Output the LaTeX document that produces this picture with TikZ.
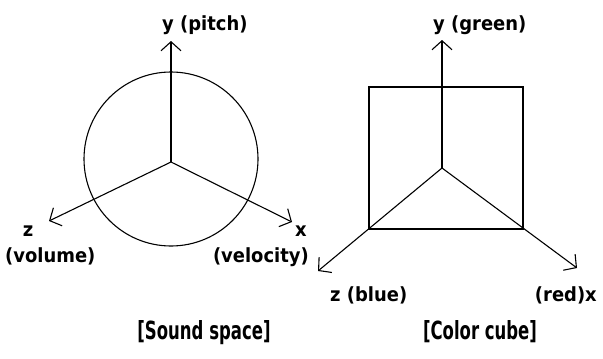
\documentclass[tikz,border=0pt]{standalone}
\usepackage{fontspec}
\usetikzlibrary{arrows.meta}
\newfontfamily\lblfont[FakeStretch=0.92]{DejaVu Sans Bold}
\newfontfamily\ttlfont[FakeStretch=0.66]{DejaVu Sans Bold}
\begin{document}
\begin{tikzpicture}[x=1pt,y=-1pt,
  axis/.style={line width=1.1pt,-{Straight Barb[length=9pt,width=20pt,line width=1.1pt]}},
  shapeline/.style={line width=1.1pt},
  lbl/.style={inner sep=0pt,font=\lblfont\fontsize{19.5}{22}\selectfont},
  ttl/.style={inner sep=0pt,font=\ttlfont\fontsize{25}{28}\selectfont}]
\useasboundingbox (0,0) rectangle (603,359);
% Sound space
\coordinate (o1) at (171,162);
\coordinate (y1) at (171,41);
\coordinate (z1) at (49,221);
\coordinate (x1) at (292,222);
\coordinate (c1) at (171,159);
\draw[shapeline] (c1) circle[radius=87];
\draw[axis] (o1) -- (y1);
\draw[axis] (o1) -- (z1);
\draw[axis] (o1) -- (x1);
\node[lbl,anchor=base west] (ly1) at (162,30) {y (pitch)};
\node[lbl,anchor=base] (lz1) at (28,236) {z};
\node[lbl,anchor=base west] (lz1b) at (5,262) {(volume)};
\node[lbl,anchor=base] (lx1) at (301,236) {x};
\node[lbl,anchor=base east] (lx1b) at (309,262) {(velocity)};
\node[ttl,anchor=base] (t1) at (204,339) {[Sound space]};
% Color cube
\coordinate (o2) at (442,168);
\coordinate (y2) at (442,40);
\coordinate (z2) at (318,271);
\coordinate (x2) at (577,268);
\coordinate (bl) at (369,229);
\coordinate (tr) at (523,87);
\draw[shapeline] (bl) rectangle (tr);
\draw[axis] (o2) -- (y2);
\draw[axis] (o2) -- (z2);
\draw[axis] (o2) -- (x2);
\node[lbl,anchor=base west] (ly2) at (433,30) {y (green)};
\node[lbl,anchor=base west] (lz2) at (330,301) {z (blue)};
\node[lbl,anchor=base east] (lx2) at (597,301) {(red)x};
\node[ttl,anchor=base] (t2) at (480,339) {[Color cube]};
\end{tikzpicture}
\end{document}
